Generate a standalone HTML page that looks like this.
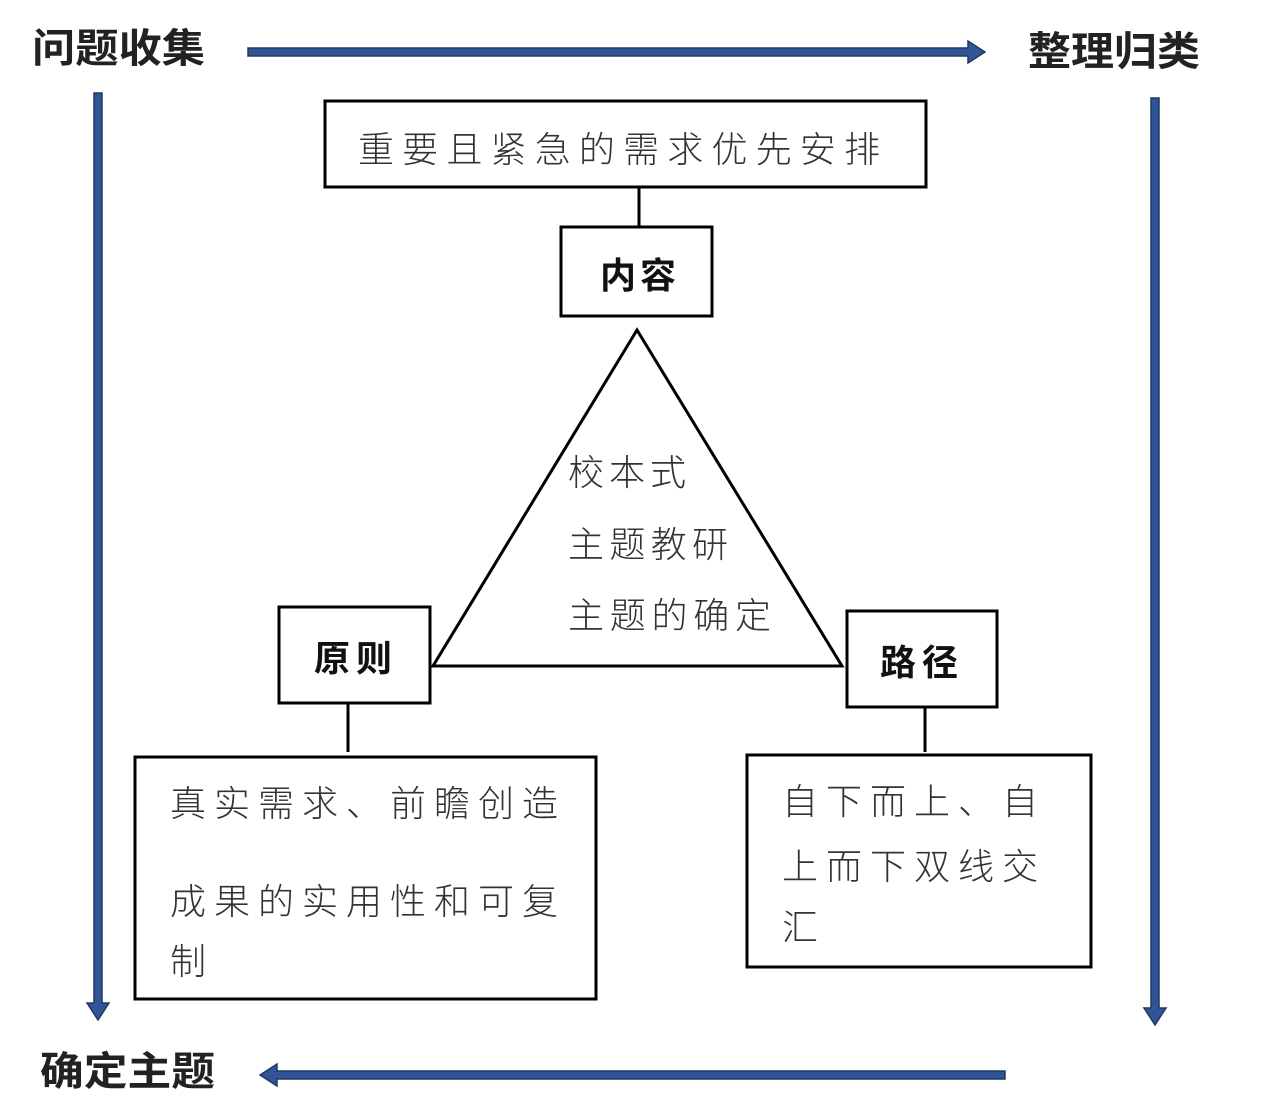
<!DOCTYPE html>
<html><head><meta charset="utf-8"><style>body{margin:0;background:#fff}svg{display:block}</style></head>
<body>
<svg width="1284" height="1112" viewBox="0 0 1284 1112" xmlns="http://www.w3.org/2000/svg" font-family="'Liberation Sans','Noto Sans CJK SC',sans-serif">
<g fill="#2f5597" stroke="#203864" stroke-width="1.5">
<polygon points="248,48 968,48 968,41 985,52 968,63 968,56 248,56"/>
<polygon points="94,93 102,93 102,1003 109,1003 98,1020 87,1003 94,1003"/>
<polygon points="1151,98 1159,98 1159,1008 1166,1008 1155,1025 1144,1008 1151,1008"/>
<polygon points="1005,1071 1005,1079 277,1079 277,1086 260,1075 277,1064 277,1071"/>
</g>
<g font-weight="bold" font-size="40" fill="#222">
<text x="32" y="62" textLength="173" lengthAdjust="spacingAndGlyphs">问题收集</text>
<text x="1028" y="65" textLength="172" lengthAdjust="spacingAndGlyphs">整理归类</text>
<text x="40" y="1085" textLength="175" lengthAdjust="spacingAndGlyphs">确定主题</text>
</g>
<g fill="none" stroke="#000" stroke-width="3">
<rect x="325" y="101" width="601" height="86"/>
<line x1="639" y1="187" x2="639" y2="227"/>
<rect x="561" y="227" width="151" height="89"/>
<polygon points="637,330 433,666 842,666"/>
<rect x="279" y="607" width="151" height="96"/>
<line x1="348" y1="703" x2="348" y2="752"/>
<rect x="847" y="611" width="150" height="96"/>
<line x1="925" y1="707" x2="925" y2="752"/>
<rect x="135" y="757" width="461" height="242"/>
<rect x="747" y="755" width="344" height="212"/>
</g>
<g fill="#333" font-weight="300" font-size="36">
<text x="358" y="162" textLength="522">重要且紧急的需求优先安排</text>
<text x="568" y="485" textLength="118">校本式</text>
<text x="568" y="557" textLength="160">主题教研</text>
<text x="568" y="628" textLength="203">主题的确定</text>
<text x="170" y="816" textLength="388">真实需求、前瞻创造</text>
<text x="170" y="914" textLength="388">成果的实用性和可复</text>
<text x="170" y="974">制</text>
<text x="782" y="814" textLength="256">自下而上、自</text>
<text x="782" y="879" textLength="256">上而下双线交</text>
<text x="782" y="940">汇</text>
</g>
<g fill="#111" font-weight="bold" font-size="36">
<text x="600" y="288" textLength="76">内容</text>
<text x="314" y="671" textLength="78">原则</text>
<text x="880" y="675" textLength="78">路径</text>
</g>
</svg>
</body></html>
